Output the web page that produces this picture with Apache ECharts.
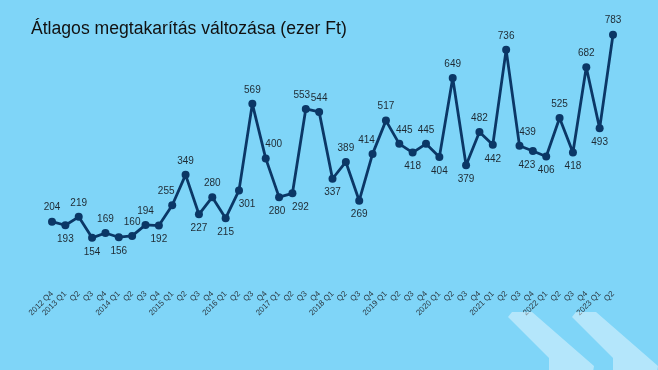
<!DOCTYPE html>
<html>
<head>
<meta charset="utf-8">
<script src="https://cdn.jsdelivr.net/npm/echarts@6/dist/echarts.min.js"></script>
<style>html,body{margin:0;padding:0;background:#7fd5f8;}#c{width:658px;height:370px;}</style>
</head>
<body>
<div id="c"></div>
<script>
const titleText = 'Átlagos megtakarítás változása (ezer Ft)';
const categories = ['2012 Q4','2013 Q1','Q2','Q3','Q4','2014 Q1','Q2','Q3','Q4','2015 Q1','Q2','Q3','Q4',
  '2016 Q1','Q2','Q3','Q4','2017 Q1','Q2','Q3','Q4','2018 Q1','Q2','Q3','Q4','2019 Q1','Q2','Q3','Q4',
  '2020 Q1','Q2','Q3','Q4','2021 Q1','Q2','Q3','Q4','2022 Q1','Q2','Q3','Q4','2023 Q1','Q2'];
const values = [204,193,219,154,169,156,160,194,192,255,349,227,280,215,301,569,400,280,292,553,544,337,389,269,414,517,445,418,445,404,649,379,482,442,736,439,423,406,525,418,682,493,783];

// label placement style (index -> [position, offsetX])
const labelStyle = {
  1:['bottom',0],3:['bottom',0],5:['bottom',0],8:['bottom',0],9:['top',-6],11:['bottom',0],13:['bottom',0],
  14:['bottom',8],16:['top',8],17:['bottom',-2],18:['bottom',8],19:['top',-4],21:['bottom',0],23:['bottom',0],
  24:['top',-6],26:['top',5],27:['bottom',0],29:['bottom',0],31:['bottom',0],33:['bottom',0],35:['top',8],
  36:['bottom',-6],37:['bottom',0],39:['bottom',0],41:['bottom',0]
};

const seriesData = values.map((v,i)=>{
  const s = labelStyle[i] || ['top',0];
  return {value:v, label:{position:s[0], offset:[s[1],0]}};
});

const chart = echarts.init(document.getElementById('c'), null, {renderer:'canvas'});
function chev(x){
  return {type:'polygon', z:100, silent:true,
    shape:{points:[[x-1,317],[x+3,312],[x+23,312],[x+85,366],[x+84,372],[x+40,372],[x+40,358]]},
    style:{fill:'rgba(255,255,255,0.42)'}};
}
chart.setOption({
  backgroundColor:'#7fd5f8',
  animation:false,
  title:{text:titleText,left:26,top:15,textStyle:{fontFamily:'Liberation Sans, Arial, sans-serif',fontSize:17.6,fontWeight:'normal',color:'#111'}},
  grid:{left:52,right:45,top:29.2,bottom:82.4,containLabel:false},
  xAxis:{type:'category',data:categories,boundaryGap:false,
    axisLine:{show:false},axisTick:{show:false},splitLine:{show:false},
    axisLabel:{interval:0,rotate:45,fontSize:8,margin:5,color:'#2b3a44',fontFamily:'Liberation Sans, Arial, sans-serif'}},
  yAxis:{type:'value',min:0,max:800,show:false},
  series:[{type:'line',data:seriesData,symbol:'circle',symbolSize:8,
    lineStyle:{color:'#0b3766',width:2.8},itemStyle:{color:'#0b3766'},
    label:{show:true,fontSize:10,color:'#1e2a33',fontFamily:'Liberation Sans, Arial, sans-serif',distance:5}}],
  graphic:[chev(509),chev(573)]
});
</script>
</body>
</html>
